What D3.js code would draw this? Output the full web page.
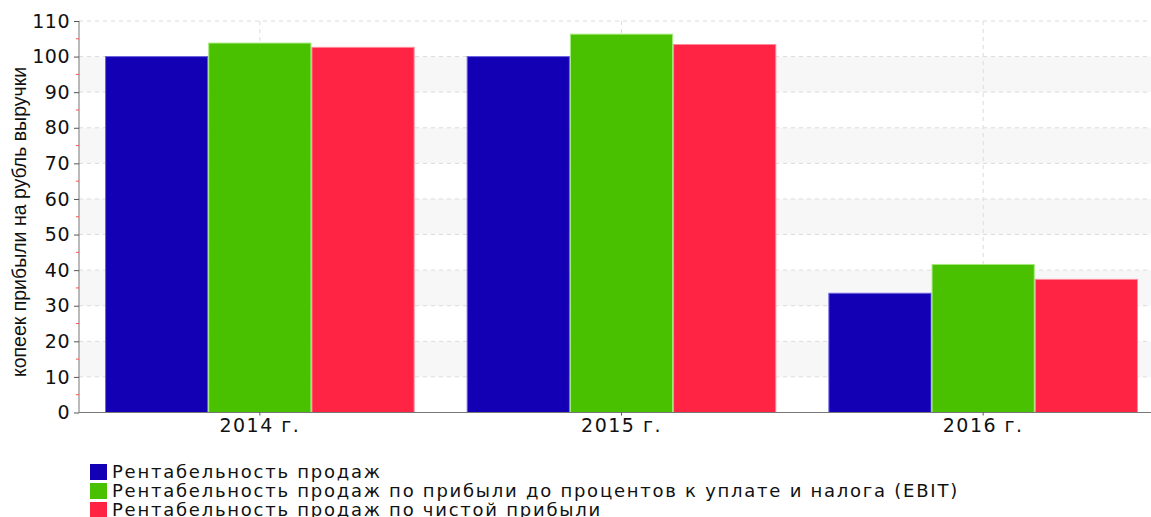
<!DOCTYPE html>
<html>
<head>
<meta charset="utf-8">
<script src="https://cdn.jsdelivr.net/npm/d3@7"></script>
<style>
body { margin: 0; background: #fff; }
svg { font-family: "DejaVu Sans", Verdana, sans-serif; }
</style>
</head>
<body>
<div id="chart"></div>
<script>
var width = 1151, height = 517;

// data
var years = ["2014 г.", "2015 г.", "2016 г."];
var seriesNames = [
    "Рентабельность продаж",
    "Рентабельность продаж по прибыли до процентов к уплате и налога (EBIT)",
    "Рентабельность продаж по чистой прибыли"
];
var salesMargin = [100, 100, 33.5];
var ebitMargin = [103.8, 106.3, 41.6];
var netMargin = [102.6, 103.4, 37.4];
var yTicks = [0, 10, 20, 30, 40, 50, 60, 70, 80, 90, 100, 110];

var colors = ["#1300b5", "#49c000", "#ff2444"];
var strokes = ["#6a60e0", "#a4ea7a", "#ff8a9c"];
var values = [salesMargin, ebitMargin, netMargin];

var plotLeft = 79, plotRight = 1164, plotTop = 21, plotBottom = 412.5;

var svg = d3.select("#chart").append("svg")
    .attr("width", width)
    .attr("height", height);

var y = d3.scaleLinear().domain([0, 110]).range([plotBottom, plotTop]);

var x0 = d3.scaleBand().domain(years).range([plotLeft, plotRight])
    .paddingInner(0.144).paddingOuter(0.072);
var x1 = d3.scaleBand().domain(d3.range(seriesNames.length)).range([0, x0.bandwidth()]);

//alternate background bands
var bands = svg.append("g");
for (var i = 10; i < 110; i += 20) {
    bands.append("rect")
        .attr("x", plotLeft)
        .attr("y", y(i + 10))
        .attr("width", plotRight - plotLeft)
        .attr("height", y(i) - y(i + 10))
        .attr("fill", "#f7f7f7");
}

//grid lines
svg.append("g").selectAll("line")
    .data(yTicks.filter(function(d) { return d > 0; }))
    .enter().append("line")
    .attr("x1", plotLeft).attr("x2", plotRight)
    .attr("y1", function(d) { return y(d); })
    .attr("y2", function(d) { return y(d); })
    .attr("stroke", "#dcdcdc")
    .attr("stroke-dasharray", "4,4");

svg.append("g").selectAll("line")
    .data(years)
    .enter().append("line")
    .attr("x1", function(d) { return x0(d) + x0.bandwidth() / 2; })
    .attr("x2", function(d) { return x0(d) + x0.bandwidth() / 2; })
    .attr("y1", plotTop).attr("y2", plotBottom)
    .attr("stroke", "#dcdcdc")
    .attr("stroke-dasharray", "4,4");

//bars
var groups = svg.append("g").selectAll("g")
    .data(years)
    .enter().append("g")
    .attr("transform", function(d) { return "translate(" + x0(d) + ",0)"; });

groups.selectAll("rect")
    .data(function(d, i) { return values.map(function(s, j) { return {s: j, v: s[i]}; }); })
    .enter().append("rect")
    .attr("x", function(d) { return x1(d.s) + 0.5; })
    .attr("y", function(d) { return y(d.v); })
    .attr("width", x1.bandwidth() - 1)
    .attr("height", function(d) { return plotBottom - y(d.v); })
    .attr("fill", function(d) { return colors[d.s]; })
    .attr("stroke", function(d) { return strokes[d.s]; })
    .attr("stroke-width", 1);

//y axis
var yAxis = svg.append("g")
    .attr("transform", "translate(" + plotLeft + ",0)")
    .call(d3.axisLeft(y).tickValues(yTicks).tickSize(5).tickPadding(4));
yAxis.select(".domain").attr("stroke", "#777").attr("d", "M0," + plotTop + "V" + plotBottom);
yAxis.selectAll(".tick line").attr("stroke", "#555");
yAxis.selectAll(".tick text")
    .style("font-size", "19px")
    .style("letter-spacing", "0.5px")
    .attr("fill", "#111")
    .style("font-family", "DejaVu Sans, Verdana, sans-serif");

//minor red ticks
svg.append("g").selectAll("line")
    .data(d3.range(5, 110, 10))
    .enter().append("line")
    .attr("x1", plotLeft - 3).attr("x2", plotLeft)
    .attr("y1", function(d) { return y(d); })
    .attr("y2", function(d) { return y(d); })
    .attr("stroke", "#ff5050");

//x axis
var xAxis = svg.append("g")
    .attr("transform", "translate(0," + plotBottom + ")")
    .call(d3.axisBottom(x0).tickSize(3).tickPadding(3));
xAxis.select(".domain").attr("stroke", "#777").attr("d", "M" + plotLeft + ",0H" + plotRight);
xAxis.selectAll(".tick line").attr("stroke", "#555");
xAxis.selectAll(".tick text")
    .style("font-size", "19px")
    .style("letter-spacing", "1.5px")
    .attr("fill", "#111")
    .style("font-family", "DejaVu Sans, Verdana, sans-serif");

//axis title
svg.append("text")
    .attr("transform", "translate(26,222) rotate(-90)")
    .attr("text-anchor", "middle")
    .style("font-family", "Liberation Sans, Arial, sans-serif")
    .style("font-size", "19.5px")
    .attr("fill", "#111")
    .text("копеек прибыли на рубль выручки");

//legend
var legend = svg.append("g").selectAll("g")
    .data(seriesNames)
    .enter().append("g")
    .attr("transform", function(d, i) { return "translate(90," + (464 + i * 19) + ")"; });
legend.append("rect")
    .attr("width", 17).attr("height", 16)
    .attr("fill", function(d, i) { return colors[i]; });
legend.append("text")
    .attr("x", 22).attr("y", 14)
    .style("font-size", "18px")
    .style("letter-spacing", "1.75px")
    .attr("fill", "#111")
    .text(function(d) { return d; });
</script>
</body>
</html>
